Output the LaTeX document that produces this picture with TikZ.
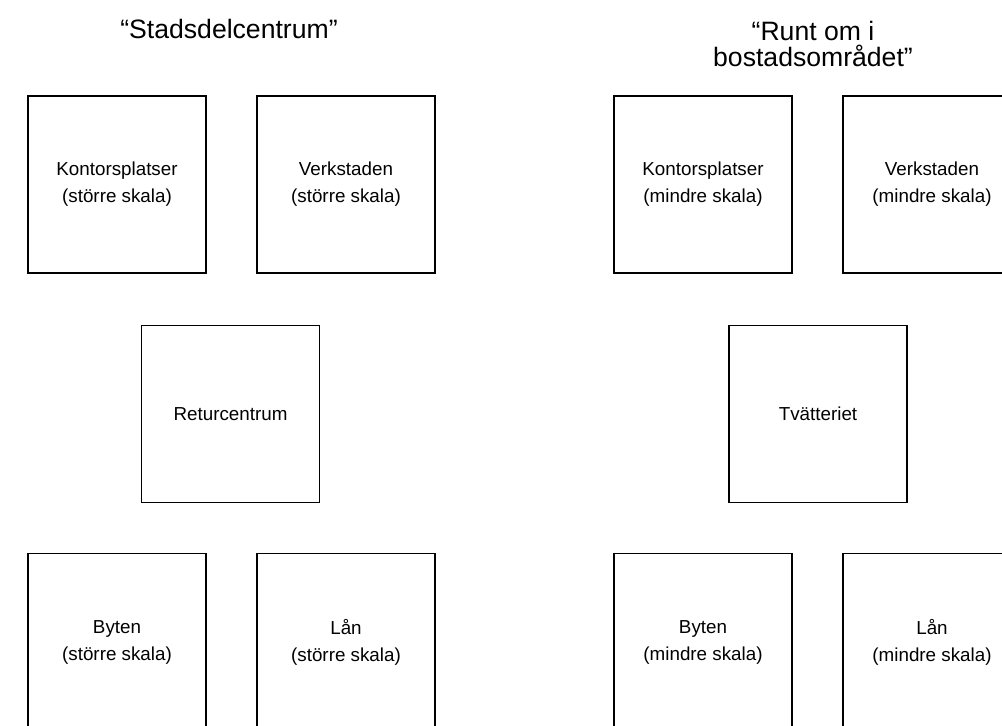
\documentclass[tikz,border=0pt]{standalone}
\usepackage{fontspec}
\setmainfont{Liberation Sans}
\usepackage{tikz}

\begin{document}
\begin{tikzpicture}[x=1pt,y=-1pt,
  every node/.style={font=\fontsize{18.8}{27}\selectfont},
  ruta/.style={draw,line width=1.3pt,minimum width=178pt,minimum height=177pt,
    inner sep=0pt,align=center},
  rubrik/.style={font=\fontsize{26.6}{26}\selectfont,align=center}]
  \useasboundingbox (0,0) rectangle (1002,726);
  \clip (0,0) rectangle (1002,726);
  % stadsdelcentrum
  \node[rubrik,anchor=base] (rubrikA) at (229,38.5) {“Stadsdelcentrum”};
  \node[ruta] (kontorA) at (117,184.5) {Kontorsplatser\\(större skala)};
  \node[ruta] (verkA) at (346,184.5) {Verkstaden\\(större skala)};
  \node[ruta] (retur) at (230.5,414) {Returcentrum};
  \node[ruta] (bytenA) at (117,642) {Byten\\(större skala)};
  \node[ruta] (lanA) at (346,642) {Lån\\(större skala)};
  % bostadsomradet
  \node[rubrik] (rubrikB) at (813,44) {“Runt om i\\bostadsområdet”};
  \node[ruta] (kontorB) at (703,184.5) {Kontorsplatser\\(mindre skala)};
  \node[ruta] (verkB) at (932,184.5) {Verkstaden\\(mindre skala)};
  \node[ruta] (tvatt) at (818,414) {Tvätteriet};
  \node[ruta] (bytenB) at (703,642) {Byten\\(mindre skala)};
  \node[ruta] (lanB) at (932,642) {Lån\\(mindre skala)};
\end{tikzpicture}
\end{document}
